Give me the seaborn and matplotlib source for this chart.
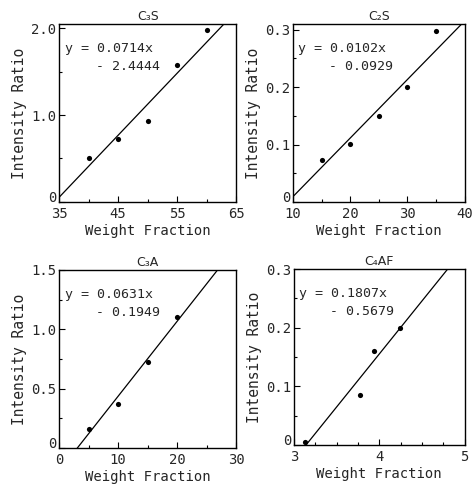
import matplotlib
matplotlib.use("Agg")
import matplotlib.pyplot as plt
import numpy as np
import pandas as pd
import seaborn as sns
from matplotlib.ticker import MultipleLocator

sns.set_style("ticks")
plt.rcParams["font.family"] = ["DejaVu Sans Mono", "DejaVu Sans"]

# phases and their calibration data
titles = ["C₃S", "C₂S", "C₃A", "C₄AF"]

c3s_x = [40, 45, 50, 55, 60]
c3s_y = [0.50, 0.72, 0.93, 1.58, 1.98]
c2s_x = [15, 20, 25, 30, 35]
c2s_y = [0.073, 0.101, 0.150, 0.200, 0.297]
c3a_x = [5, 10, 15, 20]
c3a_y = [0.16, 0.37, 0.72, 1.10]
c4af_x = [3.13, 3.78, 3.94, 4.24]
c4af_y = [0.005, 0.085, 0.160, 0.200]

slopes = [0.0714, 0.0102, 0.0631, 0.1807]
intercepts = [-2.4444, -0.0929, -0.1949, -0.5679]
slope_text = ["0.0714x", "0.0102x", "0.0631x", "0.1807x"]
icpt_text = ["2.4444", "0.0929", "0.1949", "0.5679"]

xlims = [(35, 65), (10, 40), (0, 30), (3, 5)]
ylims = [(0, 2.05), (0, 0.31), (0, 1.5), (0, 0.3)]
xticks = [[35, 45, 55, 65], [10, 20, 30, 40], [0, 10, 20, 30], [3, 4, 5]]
yticks = [[0, 1.0, 2.0], [0, 0.1, 0.2, 0.3], [0, 0.5, 1.0, 1.5], [0, 0.1, 0.2, 0.3]]
ytick_labels = [["0", "1.0", "2.0"], ["0", "0.1", "0.2", "0.3"],
                ["0", "0.5", "1.0", "1.5"], ["0", "0.1", "0.2", "0.3"]]
xminor = [5, 5, 5, 0.25]
yminor = [0.5, 0.05, 0.25, 0.05]

xs = [c3s_x, c2s_x, c3a_x, c4af_x]
ys = [c3s_y, c2s_y, c3a_y, c4af_y]

fig = plt.figure(figsize=(4.74, 4.90), dpi=100)
positions = [
    [0.125, 0.588, 0.373, 0.363],
    [0.618, 0.588, 0.362, 0.363],
    [0.125, 0.086, 0.373, 0.363],
    [0.620, 0.092, 0.360, 0.359],
]

for i in range(4):
    ax = fig.add_axes(positions[i])
    pts = pd.DataFrame({"x": xs[i], "y": ys[i]})
    sns.scatterplot(data=pts, x="x", y="y", ax=ax, color="black", s=14,
                    edgecolor="black", linewidth=0, zorder=3)
    lx = np.array(xlims[i], dtype=float)
    fit = pd.DataFrame({"x": lx, "y": slopes[i] * lx + intercepts[i]})
    sns.lineplot(data=fit, x="x", y="y", ax=ax, color="black", linewidth=0.9)

    ax.set_xlim(*xlims[i])
    ax.set_ylim(*ylims[i])
    ax.set_xticks(xticks[i])
    ax.set_xticklabels([str(t) for t in xticks[i]], fontsize=10)
    ax.set_yticks(yticks[i])
    ax.set_yticklabels(ytick_labels[i], fontsize=10)
    # the zero label sits a little above the corner, as in the scan
    ax.get_yticklabels()[0].set_va("baseline")
    ax.xaxis.set_minor_locator(MultipleLocator(xminor[i]))
    ax.yaxis.set_minor_locator(MultipleLocator(yminor[i]))
    ax.tick_params(which="both", direction="in", top=False, right=False,
                   color="black", width=0.8)
    ax.tick_params(which="major", length=4, pad=2)
    ax.tick_params(axis="x", which="major", pad=4)
    ax.tick_params(which="minor", length=2)
    for s in ax.spines.values():
        s.set_visible(True)
        s.set_color("black")
        s.set_linewidth(1.0)

    ax.set_xlabel("Weight Fraction", fontsize=10, labelpad=2)
    ax.set_ylabel("Intensity Ratio", fontsize=10.5, labelpad=3)
    ax.set_title(titles[i], fontsize=9, pad=3, family="DejaVu Sans")

    ax.text(0.03, 0.86, "y = " + slope_text[i], transform=ax.transAxes,
            fontsize=9.5, va="center", ha="left")
    ax.text(0.21, 0.76, "- " + icpt_text[i], transform=ax.transAxes,
            fontsize=9.5, va="center", ha="left")

fig.savefig("out.png", dpi=100)
